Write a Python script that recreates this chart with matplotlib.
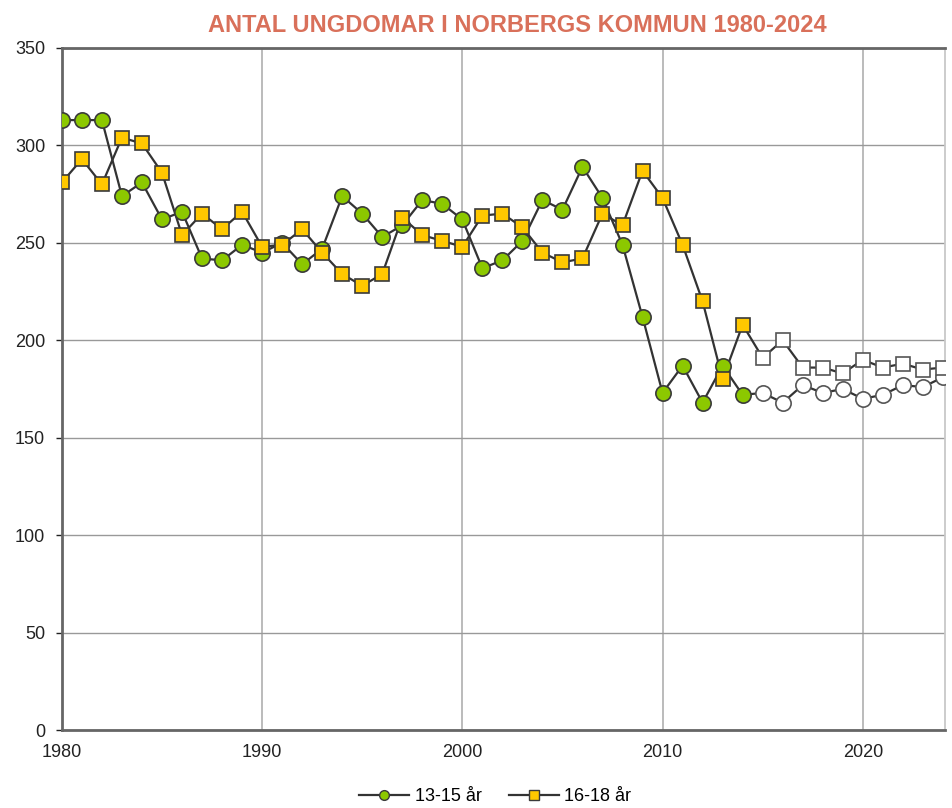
import numpy as np
import matplotlib
matplotlib.use('Agg')
import matplotlib.pyplot as plt
from matplotlib.lines import Line2D

plt.rcParams['font.family'] = ['Liberation Sans Narrow', 'Liberation Sans', 'DejaVu Sans']

# --- data ------------------------------------------------------------------------
years = np.arange(1980, 2025)
split_year = 2014  # last observed year, later points are hollow (projection)

age_13_15 = [313, 313, 313, 274, 281, 262, 266, 242, 241, 249,
             245, 250, 239, 247, 274, 265, 253, 259, 272, 270,
             262, 237, 241, 251, 272, 267, 289, 273, 249, 212,
             173, 187, 168, 187, 172,
             173, 168, 177, 173, 175, 170, 172, 177, 176, 181]

age_16_18 = [281, 293, 280, 304, 301, 286, 254, 265, 257, 266,
             248, 249, 257, 245, 234, 228, 234, 263, 254, 251,
             248, 264, 265, 258, 245, 240, 242, 265, 259, 287,
             273, 249, 220, 180, 208,
             191, 200, 186, 186, 183, 190, 186, 188, 185, 186]

labels = ['13-15 år', '16-18 år']
title = 'ANTAL UNGDOMAR I NORBERGS KOMMUN 1980-2024'

# ---------------------------------------------------------------------------------
fig = plt.figure(figsize=(9.52, 8.08), dpi=100)
ax = fig.add_axes([0.065, 0.0965, 0.9275, 0.8441])

green = '#8CC800'
yellow = '#FFC800'
line_c = '#333333'

obs = years <= split_year
proj = years > split_year

for vals, marker, face, ms in [(age_13_15, 'o', green, 11),
                               (age_16_18, 's', yellow, 10.5)]:
    vals = np.array(vals)
    ax.plot(years, vals, '-', color=line_c, linewidth=1.6, zorder=3)
    ax.plot(years[obs], vals[obs], marker, color=face, markersize=ms,
            markeredgecolor='#3a3a3a', markeredgewidth=1.2, linestyle='none', zorder=4)
    ax.plot(years[proj], vals[proj], marker, color='white', markersize=ms,
            markeredgecolor='#555555', markeredgewidth=1.2, linestyle='none', zorder=4)

ax.set_xlim(1980, 2024.1)
ax.set_ylim(0, 350)
ax.set_xticks([1980, 1990, 2000, 2010, 2020])
ax.set_yticks(np.arange(0, 351, 50))
ax.grid(True, axis='y', color='#999999', linewidth=1.0)
ax.grid(True, axis='x', color='#b5b5b5', linewidth=1.3)
ax.set_axisbelow(True)

for side in ['left', 'bottom', 'top']:
    ax.spines[side].set_color('#666666')
    ax.spines[side].set_linewidth(2.0)
ax.spines['right'].set_color('#c8c8c8')
ax.spines['right'].set_linewidth(1.3)

ax.tick_params(axis='both', labelsize=13, colors='#222222', length=4, width=1.0,
               direction='out')
ax.tick_params(axis='x', length=0, pad=10)
ax.tick_params(axis='y', pad=8)

fig.text(0.543, 0.968, title, ha='center', va='center', fontsize=17,
         fontweight='bold', color='#D9705A')

handles = [Line2D([0], [0], color=line_c, linewidth=1.6, marker='o',
                  markerfacecolor=green, markeredgecolor='#3a3a3a', markersize=7),
           Line2D([0], [0], color=line_c, linewidth=1.6, marker='s',
                  markerfacecolor=yellow, markeredgecolor='#3a3a3a', markersize=7)]
fig.legend(handles, labels, loc='center', bbox_to_anchor=(0.52, 0.014), ncol=2,
           frameon=False, fontsize=13, handlelength=2.8, columnspacing=1.5,
           handletextpad=0.3)

fig.savefig('out.png', dpi=100)
plt.close(fig)
